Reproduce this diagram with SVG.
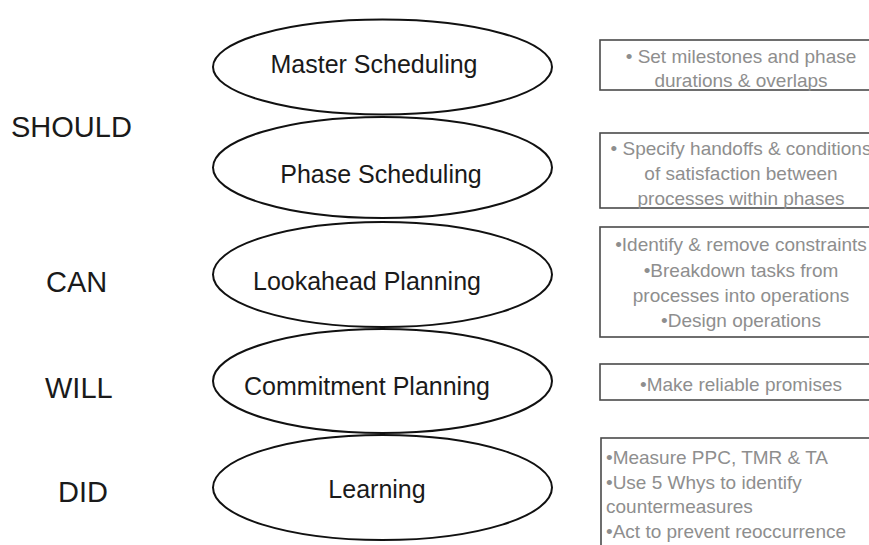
<svg xmlns="http://www.w3.org/2000/svg" width="869" height="545" viewBox="0 0 869 545">
<style>
.ell{fill:#ffffff;stroke:#111111;stroke-width:2}
.et{font-family:"Liberation Sans",Arial,sans-serif;font-size:25px;fill:#1a1a1a;text-anchor:middle}
.lab{font-family:"Liberation Sans",Arial,sans-serif;font-size:29px;fill:#1a1a1a}
.box{fill:#ffffff;stroke:#4a4a4a;stroke-width:1.6}
.bt{font-family:"Liberation Sans",Arial,sans-serif;font-size:19px;fill:#8e8e8e;text-anchor:middle}
.bl{font-family:"Liberation Sans",Arial,sans-serif;font-size:19px;fill:#8e8e8e}
</style>
<rect x="0" y="0" width="869" height="545" fill="#ffffff"/>
<g id="labels">
<text class="lab" x="11" y="137">SHOULD</text>
<text class="lab" x="46" y="292">CAN</text>
<text class="lab" x="45" y="398">WILL</text>
<text class="lab" x="58" y="502">DID</text>
</g>
<g id="master-scheduling">
<ellipse class="ell" cx="382.5" cy="67" rx="169.5" ry="47.5"/>
<text class="et" x="374" y="73">Master Scheduling</text>
</g>
<g id="phase-scheduling">
<ellipse class="ell" cx="382.5" cy="167.5" rx="169.5" ry="50.5"/>
<text class="et" x="381" y="183">Phase Scheduling</text>
</g>
<g id="lookahead-planning">
<ellipse class="ell" cx="382.5" cy="274.5" rx="169.5" ry="52.5"/>
<text class="et" x="367" y="290">Lookahead Planning</text>
</g>
<g id="commitment-planning">
<ellipse class="ell" cx="382.5" cy="381" rx="169.5" ry="52"/>
<text class="et" x="367" y="395">Commitment Planning</text>
</g>
<g id="learning">
<ellipse class="ell" cx="382.5" cy="487.5" rx="169.5" ry="52.5"/>
<text class="et" x="377" y="498">Learning</text>
</g>
<g id="box-master">
<rect class="box" x="600" y="40" width="290" height="50"/>
<text class="bt" x="741" y="63">• Set milestones and phase</text>
<text class="bt" x="741" y="87">durations &amp; overlaps</text>
</g>
<g id="box-phase">
<rect class="box" x="600" y="133" width="290" height="75"/>
<text class="bt" x="741" y="155">• Specify handoffs &amp; conditions</text>
<text class="bt" x="741" y="180">of satisfaction between</text>
<text class="bt" x="741" y="205">processes within phases</text>
</g>
<g id="box-lookahead">
<rect class="box" x="600" y="227" width="290" height="110"/>
<text class="bt" x="741" y="251">•Identify &amp; remove constraints</text>
<text class="bt" x="741" y="277">•Breakdown tasks from</text>
<text class="bt" x="741" y="302">processes into operations</text>
<text class="bt" x="741" y="327">•Design operations</text>
</g>
<g id="box-commitment">
<rect class="box" x="600" y="364" width="290" height="36"/>
<text class="bt" x="741" y="391">•Make reliable promises</text>
</g>
<g id="box-learning">
<rect class="box" x="601" y="438" width="290" height="120"/>
<text class="bl" x="606" y="464">•Measure PPC, TMR &amp; TA</text>
<text class="bl" x="606" y="488.5">•Use 5 Whys to identify</text>
<text class="bl" x="606" y="513">countermeasures</text>
<text class="bl" x="606" y="537.5">•Act to prevent reoccurrence</text>
</g>
</svg>
